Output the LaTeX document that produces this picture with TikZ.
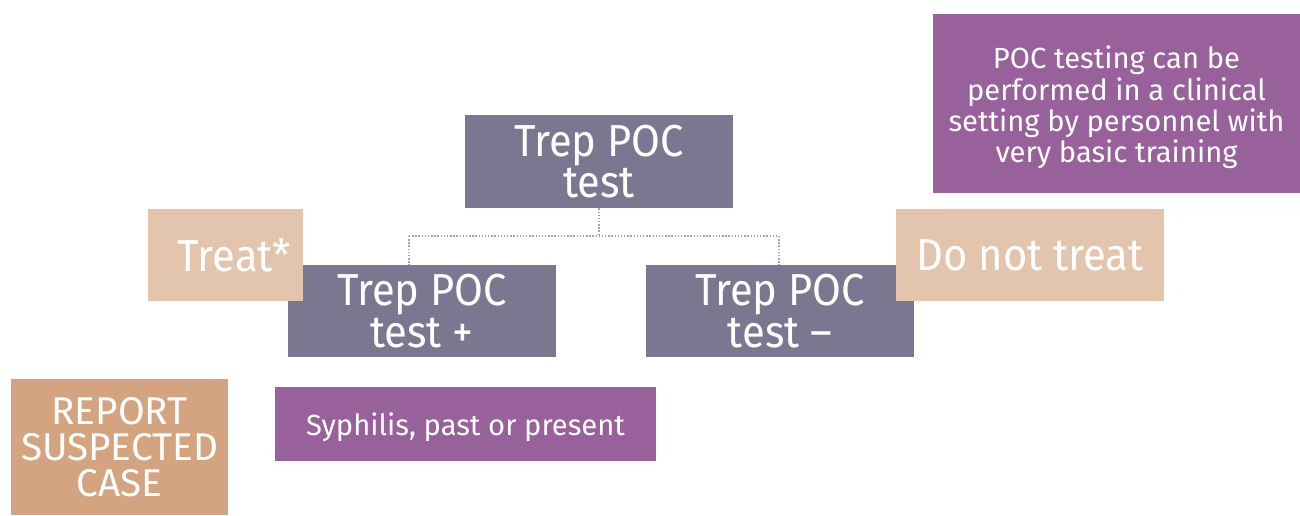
\documentclass[tikz,border=0pt]{standalone}
\usepackage{fontspec}
\setmainfont{Fira Sans}
\newfontfamily\narrowsans[FakeStretch=0.93]{Fira Sans}
\definecolor{slate}{HTML}{7C7791}
\definecolor{sand}{HTML}{E3C5AE}
\definecolor{tan}{HTML}{D3A47F}
\definecolor{plum}{HTML}{98619B}
\definecolor{linkgrey}{HTML}{A5A2B2}
\tikzset{
  box/.style={rectangle, inner sep=0pt, text=white, align=center},
  bigtext/.style={font=\narrowsans\fontsize{25.5}{19.5}\selectfont},
  smalltext/.style={font=\fontsize{16.6}{17.8}\selectfont},
  caption/.style={text=white, align=center, inner sep=0pt, smalltext},
  link/.style={draw=linkgrey, densely dotted, line width=0.8pt}
}
\begin{document}
\begin{tikzpicture}[x=0.02cm, y=-0.02cm]
\useasboundingbox (0,0) rectangle (1300,515);
% decision boxes
\node[box, bigtext, fill=slate, minimum width=5.36cm, minimum height=1.86cm] (top) at (599,161.5) {Trep POC\\test};
\node[box, bigtext, fill=slate, minimum width=5.36cm, minimum height=1.84cm] (plus) at (422,311) {\raisebox{-0.1cm}{\shortstack{Trep POC\\[-0.05cm]test +}}};
\node[box, bigtext, fill=slate, minimum width=5.36cm, minimum height=1.84cm] (minus) at (780,311) {\raisebox{-0.1cm}{\shortstack{Trep POC\\[-0.05cm]test –}}};
% outcomes
\node[box, bigtext, fill=sand, minimum width=3.1cm, minimum height=1.84cm] (treat) at (225.5,255) {\hspace*{0.35cm}Treat*};
\node[box, bigtext, fill=sand, minimum width=5.36cm, minimum height=1.84cm] (donot) at (1030,255) {Do not treat};
\node[box, font=\fontsize{22}{20.4}\selectfont, fill=tan, minimum width=4.34cm, minimum height=2.72cm] (report) at (119.5,447) {REPORT\\SUSPECTED\\CASE};
% purple notes, their text set slightly below the box centre
\node[box, fill=plum, minimum width=7.62cm, minimum height=1.48cm,
  label={[caption, yshift=-0.06cm]center:Syphilis, past or present}] (syph) at (465.5,424) {};
\node[box, fill=plum, minimum width=7.34cm, minimum height=3.58cm,
  label={[caption, yshift=-0.08cm]center:{POC testing can be\\performed in a clinical\\setting by personnel with\\very basic training}}] (note) at (1116.5,103.5) {};
% branching connector
\coordinate (j) at (599,236);
\coordinate (jl) at (409,236);
\coordinate (jr) at (779,236);
\draw[link] (top.south -| j) -- (j);
\draw[link] (jl) -- (jr);
\draw[link] (jl) -- (jl |- plus.north);
\draw[link] (jr) -- (jr |- minus.north);
\end{tikzpicture}
\end{document}
